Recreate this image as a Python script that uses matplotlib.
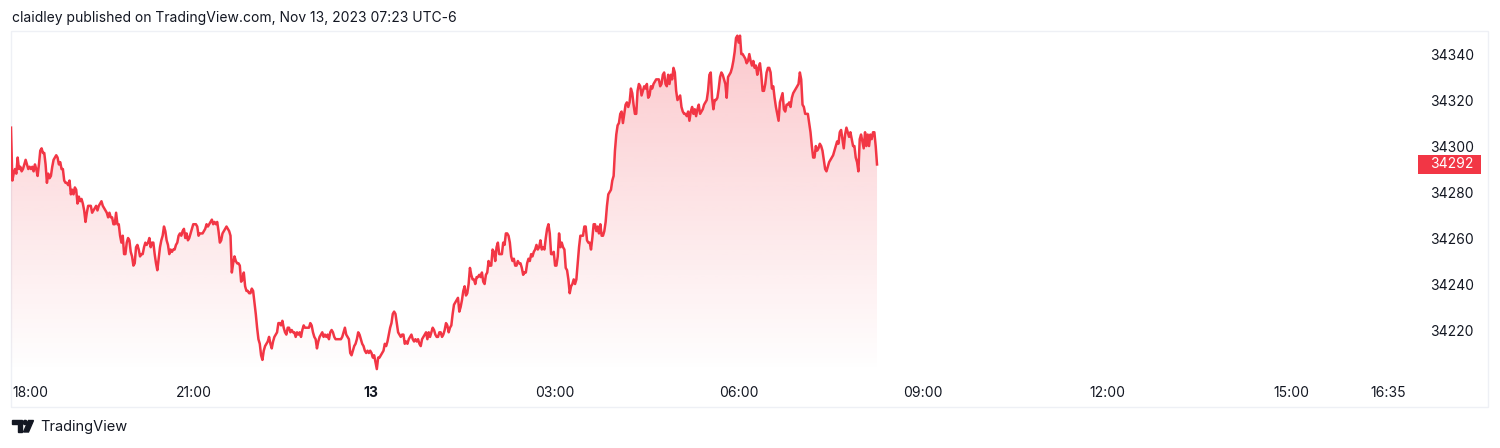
import numpy as np
import matplotlib.pyplot as plt
from matplotlib.patches import Rectangle, Polygon, Circle
from matplotlib.colors import to_rgb
import matplotlib.transforms as mtransforms

plt.rcParams['font.family'] = ['Inter', 'DejaVu Sans']

title = "claidley published on TradingView.com, Nov 13, 2023 07:23 UTC-6"

# session shown: hours relative to midnight of Nov 13 (first and last bar)
t_first, t_last = -5.87, 8.25

prices = [
    # evening of the 12th
    34308, 34285, 34288, 34290, 34288, 34295, 34290, 34291, 34289, 34290, 34292, 34294, 34292, 34290,
    34291, 34290, 34291, 34289, 34292, 34290, 34287, 34292, 34298, 34299, 34297, 34297, 34292, 34284,
    34288, 34286, 34287, 34291, 34294, 34295, 34296, 34295, 34292, 34293, 34290, 34290, 34285, 34284,
    34284, 34283, 34285, 34279, 34281, 34279, 34282, 34281, 34275, 34278, 34276, 34277, 34275, 34272,
    34267, 34271, 34274, 34274, 34274, 34271, 34272, 34273, 34274, 34272, 34274, 34275, 34276, 34274,
    34273, 34272, 34271, 34269, 34271, 34269, 34269, 34266, 34266, 34271, 34266, 34266, 34261, 34258,
    34261, 34253, 34253, 34258, 34260, 34259, 34254, 34252, 34248, 34249, 34256, 34257, 34255, 34252,
    34253, 34253, 34256, 34258, 34257, 34258, 34260, 34256, 34258, 34258, 34253, 34249, 34246, 34251,
    34256, 34259, 34261, 34265, 34263, 34259, 34257, 34253, 34255, 34254, 34255, 34255, 34257, 34258,
    34261, 34262, 34261, 34263, 34264, 34260, 34262, 34259, 34260, 34262, 34264, 34266, 34266, 34266,
    34265, 34261, 34262, 34262, 34262, 34263, 34264, 34266, 34265, 34266, 34267, 34268, 34266, 34267,
    34266, 34267, 34263, 34258, 34259, 34262, 34263, 34264, 34265, 34264, 34263, 34261, 34245, 34249,
    34252, 34250, 34249, 34249, 34248, 34241, 34242, 34245, 34239, 34237, 34237, 34236,
    # overnight lows
    34236, 34238, 34237, 34232, 34227, 34221, 34216, 34214, 34209, 34207, 34211, 34213, 34214, 34215,
    34217, 34214, 34212, 34215, 34217, 34218, 34219, 34223, 34223, 34222, 34224, 34221, 34219, 34218,
    34221, 34221, 34219, 34220, 34219, 34219, 34217, 34219, 34218, 34219, 34217, 34220, 34222, 34221,
    34221, 34221, 34221, 34223, 34222, 34219, 34217, 34216, 34212, 34215, 34217, 34218, 34219, 34217,
    34218, 34217, 34218, 34216, 34219, 34220, 34219, 34217, 34216, 34216, 34216, 34216, 34216, 34217,
    34219, 34221, 34218, 34217, 34216, 34210, 34209, 34211, 34213, 34214, 34216, 34219, 34218, 34216,
    34214, 34213, 34211, 34210, 34211, 34210, 34211, 34210, 34208, 34209, 34206, 34203, 34208, 34208,
    34209, 34210, 34211, 34214, 34213, 34215, 34218, 34221, 34223, 34227, 34228, 34227, 34223, 34219,
    34218, 34217, 34218, 34218, 34214, 34215, 34214, 34216, 34217, 34218, 34216, 34215, 34216, 34215,
    34216, 34214, 34213, 34216, 34217, 34218, 34219, 34216, 34219, 34217, 34219, 34221, 34220, 34218,
    34217, 34217, 34219, 34219, 34217, 34218, 34220, 34223, 34222, 34219, 34221, 34222, 34227, 34231,
    34232, 34233, 34234, 34228, 34230, 34233, 34237, 34239, 34235, 34236, 34240, 34247,
    # early morning climb
    34244, 34242, 34242, 34240, 34243, 34243, 34244, 34243, 34245, 34241, 34240, 34244, 34245, 34250,
    34248, 34248, 34255, 34254, 34250, 34256, 34258, 34253, 34253, 34253, 34258, 34257, 34262, 34262,
    34261, 34258, 34252, 34250, 34251, 34248, 34248, 34250, 34249, 34249, 34247, 34244, 34245, 34245,
    34249, 34251, 34250, 34253, 34252, 34254, 34255, 34257, 34255, 34256, 34259, 34255, 34256, 34255,
    34260, 34264, 34266, 34262, 34253, 34253, 34254, 34248, 34248, 34252, 34262, 34256, 34258, 34256,
    34255, 34247, 34246, 34242, 34236, 34239, 34240, 34242, 34240, 34242, 34249, 34256, 34261, 34261,
    34261, 34265, 34265, 34259, 34258, 34258, 34255, 34260, 34266, 34266, 34263, 34265, 34262, 34266,
    34261, 34261, 34263, 34267, 34274, 34279, 34280, 34281, 34285,
    # morning
    34287, 34298, 34305, 34309, 34310, 34314, 34315, 34310, 34314, 34318, 34319, 34317, 34319, 34325,
    34323, 34318, 34314, 34314, 34324, 34327, 34326, 34322, 34324, 34326, 34325, 34327, 34321, 34322,
    34326, 34325, 34327, 34328, 34329, 34329, 34329, 34326, 34327, 34331, 34332, 34327, 34326, 34331,
    34327, 34331, 34329, 34334, 34332, 34324, 34320, 34321, 34322, 34317, 34315, 34314, 34314, 34313,
    34315, 34311, 34315, 34317, 34314, 34316, 34313, 34316, 34318, 34314, 34315, 34316, 34318, 34319,
    34320, 34324, 34331, 34332, 34321, 34316, 34320, 34320, 34321, 34325, 34330, 34332, 34331, 34329,
    34327, 34321, 34330, 34331, 34332, 34334, 34337, 34341, 34347, 34348, 34345, 34348, 34340, 34340,
    34339, 34338, 34336, 34337, 34340, 34337, 34335, 34337, 34334, 34335, 34331, 34334, 34336, 34331,
    34324, 34324, 34327, 34332, 34334, 34334, 34332, 34325, 34326, 34321, 34317, 34314, 34311, 34319,
    34321, 34323, 34316, 34315, 34318, 34318, 34319, 34317, 34321, 34323, 34324, 34325, 34326, 34327,
    34332, 34329, 34318, 34317, 34314, 34314, 34314, 34310, 34306, 34300, 34295, 34295, 34300, 34298,
    34299, 34301, 34300, 34298, 34294, 34290, 34289, 34291, 34293, 34294, 34295, 34296, 34298, 34300,
    34302, 34301, 34306, 34307, 34303, 34299, 34305, 34308, 34306, 34304, 34306, 34303, 34300, 34300,
    34295, 34293, 34289, 34303, 34305, 34302, 34299, 34306, 34300, 34305, 34300, 34305, 34303, 34306,
    34306, 34300, 34292,
]

price_ticks = [34220, 34240, 34260, 34280, 34300, 34320, 34340]
time_ticks = [-5.55, -2.89, 0, 3, 6, 9, 12, 15, 16.58]
time_labels = ["18:00", "21:00", "13", "03:00", "06:00", "09:00", "12:00", "15:00", "16:35"]
last_price = prices[-1]

W, H = 1500, 448
line_color = '#F23645'
text_color = '#131722'

fig = plt.figure(figsize=(W / 100, H / 100), dpi=100)
fig.patch.set_facecolor('white')

# main price pane
ax = fig.add_axes([11 / W, 1 - 373 / H, (1410 - 11) / W, (373 - 32) / H])
ax.set_facecolor('none')
times = np.linspace(t_first, t_last, len(prices))
ymin, ymax = 34201.3, 34349.6

ax.plot(times, prices, color=line_color, lw=1.8, zorder=3, solid_joinstyle='round')

# gradient area under the line
area = ax.fill_between(times, prices, ymin, color='none', lw=0)
grad = np.zeros((256, 1, 4))
grad[..., :3] = to_rgb(line_color)
grad[:, 0, 3] = np.linspace(0.27, 0.0, 256)
img = ax.imshow(grad, extent=[times[0], times[-1], ymin, max(prices)],
                aspect='auto', origin='upper', zorder=2, interpolation='bilinear')
img.set_clip_path(area.get_paths()[0], transform=ax.transData)
ax.set_xlim(-5.87, 16.94)
ax.set_ylim(ymin, ymax)

for s in ax.spines.values():
    s.set_visible(False)

ax.set_xticks(time_ticks, time_labels)
ax.tick_params(axis='x', length=0, pad=9, labelsize=10, labelcolor=text_color)
ax.get_xticklabels()[2].set_fontweight('bold')

ax.yaxis.tick_right()
ax.set_yticks(price_ticks, [str(p) for p in price_ticks])
ax.tick_params(axis='y', length=0, pad=14.5, labelsize=10, labelcolor=text_color)

# last price badge
trans = mtransforms.blended_transform_factory(fig.transFigure, ax.transData)
badge_h = 19 / 2.3
ax.add_patch(Rectangle((1418 / W, last_price - badge_h / 2), 63 / W, badge_h,
                       transform=trans, facecolor=line_color, edgecolor='none',
                       clip_on=False, zorder=5))
ax.text(1430 / W, last_price, str(last_price), transform=trans, color='white',
        fontsize=10, va='center', ha='left', zorder=6, clip_on=False)

# overlay in pixel coordinates for frame, header and logo
ov = fig.add_axes([0, 0, 1, 1], zorder=-1)
ov.set_xlim(0, W)
ov.set_ylim(H, 0)
ov.axis('off')
ov.add_patch(Rectangle((11, 31.5), 1477, 375.5, fill=False, edgecolor='#eef0f5', lw=1))

fig.text(12 / W, 1 - 18 / H, title, fontsize=10, color=text_color, va='center', ha='left')

# TradingView logo
logo = fig.add_axes([0, 0, 1, 1], zorder=5)
logo.set_xlim(0, W)
logo.set_ylim(H, 0)
logo.axis('off')
logo.add_patch(Polygon([[12.3, 420.5], [22.3, 420.5], [22.3, 432], [17.5, 432], [17.5, 424.5], [12.3, 424.5]],
                       closed=True, color=text_color))
logo.add_patch(Circle((25.2, 422.5), 2.1, color=text_color))
logo.add_patch(Polygon([[28.5, 420.5], [33.5, 420.5], [28.5, 432], [23.5, 432]], closed=True, color=text_color))
fig.text(40 / W, 1 - 427 / H, "TradingView", fontsize=10.5, color=text_color, va='center', ha='left')

fig.savefig('out.png', dpi=100)
